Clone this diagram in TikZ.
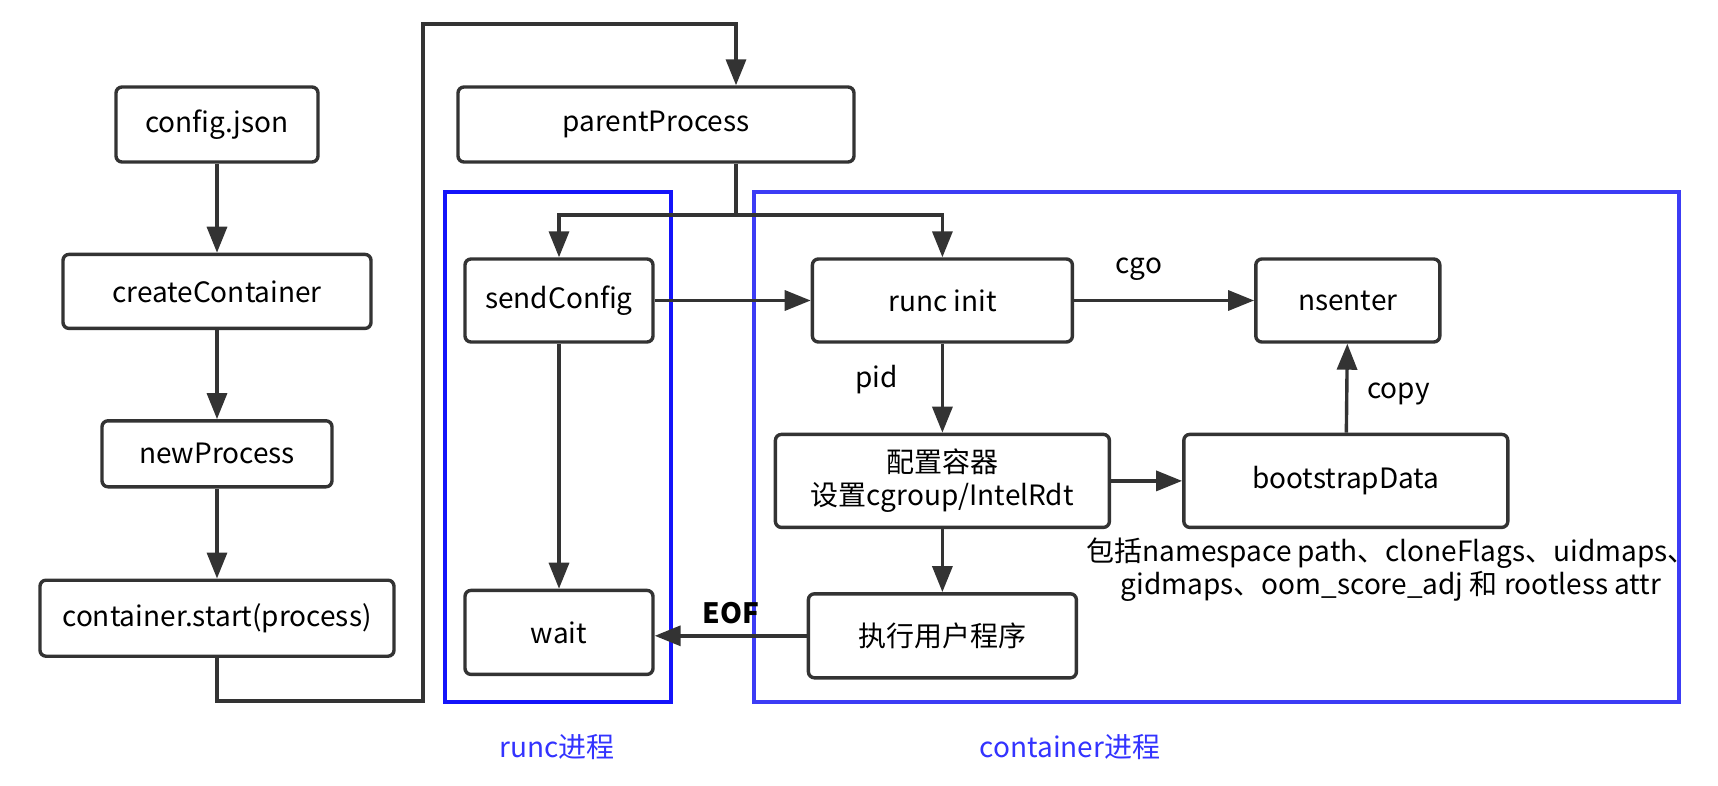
\documentclass[tikz,border=0pt]{standalone}
\usepackage{fontspec}
\setmainfont{Noto Sans CJK SC}
\usepackage{tikz}
\usetikzlibrary{arrows.meta}
\usetikzlibrary{positioning}
\usetikzlibrary{calc}
\definecolor{linegray}{HTML}{333333}
\definecolor{runcblue}{HTML}{1414FA}
\definecolor{ctrblue}{HTML}{3C3CF5}
\definecolor{labelblue}{HTML}{3333FF}
\newcommand{\boxfont}{\fontsize{14pt}{16.5pt}\selectfont}
\tikzset{
  proc/.style={draw=linegray, line width=1.7pt, rounded corners=3pt,
    minimum height=37.5pt, inner sep=2pt, align=center},
  arr/.style={draw=linegray, line width=1.7pt, -{Triangle[length=13pt,width=10pt]}},
  ln/.style={draw=linegray, line width=1.7pt},
  groupbox/.style={line width=1.6pt},
  grouplabel/.style={text=labelblue},
}

\begin{document}
\begin{tikzpicture}[x=0.5pt, y=-0.5pt, font=\boxfont]
    \useasboundingbox (0,0) rectangle (1718,786);

    \draw[groupbox, runcblue] (445,192) rectangle (671,702);
    \draw[groupbox, ctrblue] (754,192) rectangle (1679,702);
    \node[grouplabel] (runclbl) at (557,747) {runc进程};
    \node[grouplabel] (ctrlbl) at (1070,747) {container进程};

    \node[proc, minimum width=101pt] (cfg) at (217,124.5) {config.json};
    \node[proc, minimum width=154pt, minimum height=37pt, below=44.5pt of cfg] (create) {createContainer};
    \node[proc, minimum width=115pt, minimum height=33pt, below=44.5pt of create] (newp) {newProcess};
    \node[proc, minimum width=177pt, minimum height=38pt, below=45pt of newp] (start) {container.start(process)};

    \node[proc, minimum width=198pt] (parent) at (656,124.5) {parentProcess};
    \node[proc, minimum width=94pt, minimum height=41.5pt] (send) at (559,300.5) {sendConfig};
    \node[proc, minimum width=130pt, minimum height=41.5pt, right=78pt of send] (init) {runc init};
    \node[proc, minimum width=92pt, minimum height=41.5pt, right=90pt of init] (ns) {nsenter};
    \node[proc, minimum width=167pt, minimum height=46.5pt, below=44.5pt of init] (conf) {配置容器\\设置cgroup/IntelRdt};
    \node[proc, minimum width=162pt, minimum height=46.5pt, right=35.5pt of conf] (boot) {bootstrapData};
    \node[proc, minimum width=134pt, minimum height=42pt, below=31.5pt of conf] (exec) {执行用户程序};
    \node[proc, minimum width=94pt, minimum height=42pt, below=122.5pt of send] (wait) {wait};

    \node[align=center] (note) at (1391,570) {包括namespace path、cloneFlags、uidmaps、\\gidmaps、oom\_score\_adj 和 rootless attr};

    \coordinate (lb) at (423,701);
    \coordinate (lt) at (423,24);
    \coordinate (pin) at ([xshift=40pt]parent.north);
    \coordinate (split) at (736,215);

    \draw[arr] (cfg) -- (create);
    \draw[arr] (create) -- (newp);
    \draw[arr] (newp) -- (start);
    \draw[arr] (start.south) |- (lb) -- (lt) -| (pin);
    \draw[ln] (parent.south -| pin) -- (split);
    \draw[arr] (split) -| (send);
    \draw[arr] (split) -| (init);
    \draw[arr] (send) -- (init);
    \draw[arr] (init) -- node[above=6pt, pos=0.36] {cgo} (ns);
    \draw[arr] (init) -- node[left=18pt, pos=0.4] {pid} (conf);
    \draw[arr] (conf) -- (boot);
    \draw[arr] (boot) -- node[right=6pt, pos=0.44] {copy} (ns);
    \draw[arr] (conf) -- (exec);
    \draw[arr] (send) -- (wait);
    \draw[arr] (exec.west) -- node[above=2pt, font=\boxfont\bfseries] {EOF} (exec.west -| wait.east);
\end{tikzpicture}
\end{document}
